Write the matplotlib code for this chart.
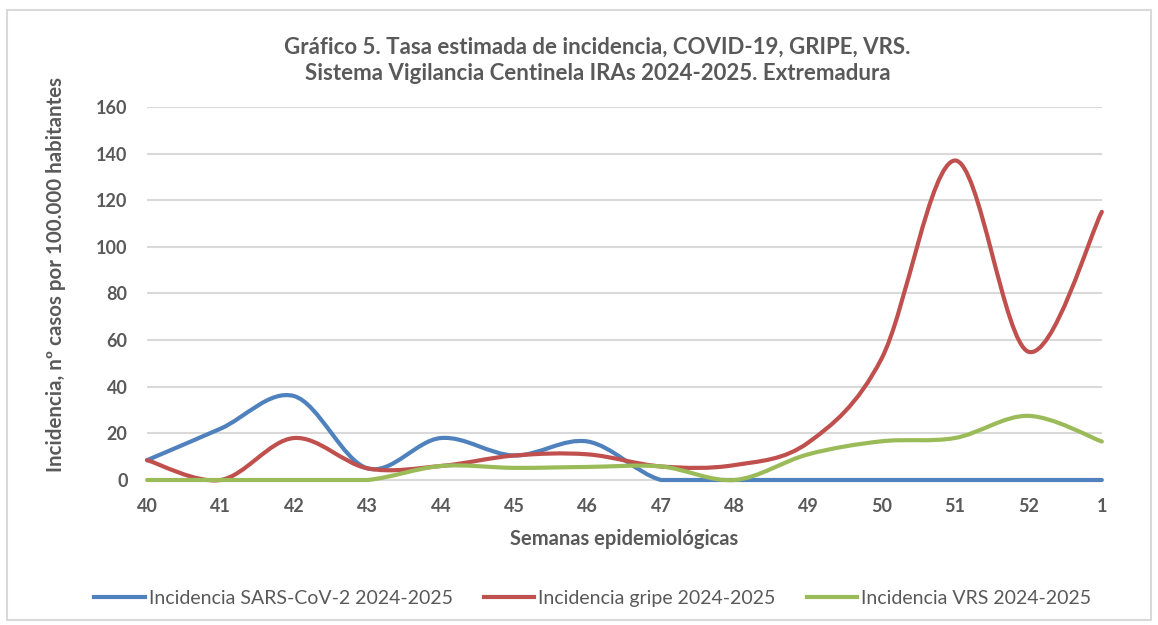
import numpy as np
import matplotlib.pyplot as plt
from matplotlib.path import Path
from matplotlib.patches import PathPatch, Rectangle
from matplotlib.lines import Line2D

plt.rcParams['font.family'] = ['Lato', 'DejaVu Sans']

semanas = ['40', '41', '42', '43', '44', '45', '46', '47', '48', '49', '50', '51', '52', '1']
sars = [8.5, 22, 36, 5, 18, 10.5, 16.5, 0, 0, 0, 0, 0, 0, 0]
gripe = [8.5, 0, 18, 5, 6, 10.5, 11, 5.8, 6.4, 16, 52, 137, 55, 115]
vrs = [0, 0, 0, 0, 6, 5.2, 5.6, 5.8, 0, 11, 16.6, 18, 27.5, 16.5]

GRIS = '#595959'


def smooth_path(x, y):
    # bezier tipo Excel (catmull-rom, tension 1/6); tramos planos quedan planos
    pts = np.column_stack([x, y]).astype(float)
    n = len(pts)
    verts = [pts[0]]
    codes = [Path.MOVETO]
    for i in range(n - 1):
        p0 = pts[max(i - 1, 0)]
        p1 = pts[i]
        p2 = pts[i + 1]
        p3 = pts[min(i + 2, n - 1)]
        c1 = p1 + (p2 - p0) / 6
        c2 = p2 - (p3 - p1) / 6
        if p1[1] == p2[1]:
            c1[1] = p1[1]
            c2[1] = p2[1]
        verts += [c1, c2, p2]
        codes += [Path.CURVE4] * 3
    return Path(verts, codes)


fig = plt.figure(figsize=(11.58, 6.25), dpi=100)
ax = fig.add_axes([0.127, 0.232, 0.8245, 0.597])

x = np.arange(len(semanas))
series = [(sars, '#4F81BD', 'Incidencia SARS-CoV-2 2024-2025'),
          (gripe, '#C0504D', 'Incidencia gripe 2024-2025'),
          (vrs, '#9BBB59', 'Incidencia VRS 2024-2025')]
handles = []
for vals, color, label in series:
    patch = PathPatch(smooth_path(x, vals), fill=False, edgecolor=color, lw=3,
                      capstyle='round', joinstyle='round', zorder=3, clip_on=False)
    ax.add_patch(patch)
    handles.append(Line2D([], [], color=color, lw=3, label=label))

ax.set_xlim(0, len(semanas) - 1)
ax.set_ylim(0, 160)
ax.set_yticks(range(0, 161, 20))
ax.set_xticks(x)
ax.set_xticklabels(semanas)
ax.yaxis.grid(True, color='#D9D9D9', lw=1.5)
ax.set_axisbelow(True)
for s in ['top', 'right', 'left']:
    ax.spines[s].set_visible(False)
ax.spines['bottom'].set_color('#D9D9D9')
ax.spines['bottom'].set_linewidth(1.5)
ax.tick_params(length=0, labelsize=13, labelcolor=GRIS)
ax.tick_params(axis='x', pad=13)
ax.tick_params(axis='y', pad=14)
for t in ax.get_xticklabels() + ax.get_yticklabels():
    t.set_fontweight('bold')

ax.set_xlabel('Semanas epidemiológicas', fontsize=14.5, fontweight='bold', color=GRIS, labelpad=10)
ax.set_ylabel('Incidencia, nº casos por 100.000 habitantes', fontsize=14.8, fontweight='bold',
              color=GRIS, va='center')
ax.yaxis.set_label_coords(-0.095, 0.55)

fig.text(0.516, 0.903, 'Gráfico 5. Tasa estimada de incidencia, COVID-19, GRIPE, VRS.\n'
         'Sistema Vigilancia Centinela IRAs 2024-2025. Extremadura',
         ha='center', va='center', fontsize=16, fontweight='bold', color=GRIS, linespacing=1.3)

fig.legend(handles=handles, loc='center', bbox_to_anchor=(0.512, 0.043), ncol=3, frameon=False,
           fontsize=14, labelcolor=GRIS, handlelength=2.6, handletextpad=0.2, columnspacing=1.6)

fig.patches.append(Rectangle((0.006, 0.008), 0.988, 0.976, transform=fig.transFigure,
                             fill=False, edgecolor='#D9D9D9', lw=1.5))

fig.savefig('out.png', dpi=100)
